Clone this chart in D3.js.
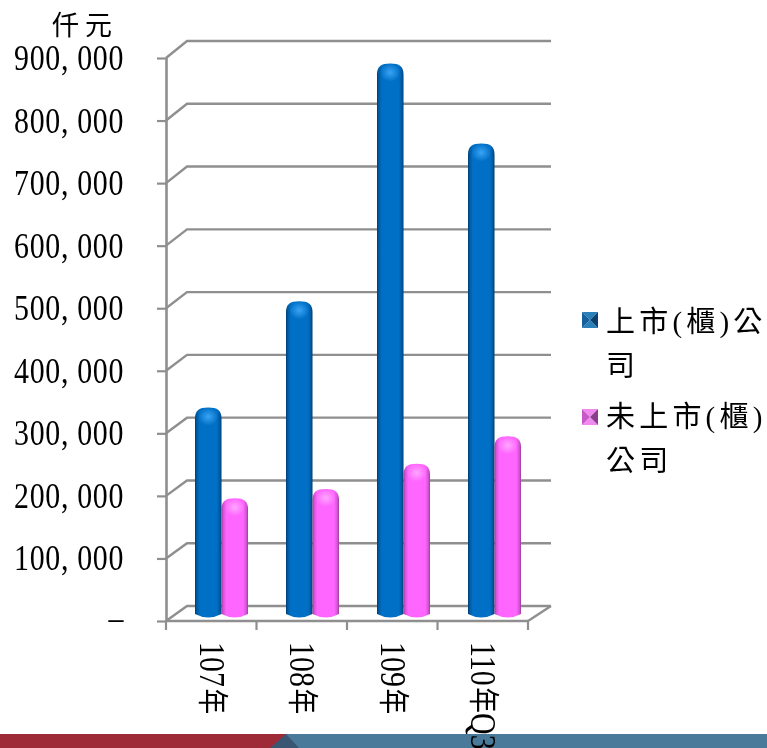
<!DOCTYPE html>
<html><head><meta charset="utf-8">
<script src="https://cdnjs.cloudflare.com/ajax/libs/d3/7.8.5/d3.min.js"></script>
<style>
html,body{margin:0;padding:0;background:#fff;overflow:hidden}
svg{filter:blur(0.35px)}
text{font-family:"Liberation Serif","Noto Sans CJK TC",serif;fill:#000}
</style></head><body>
<svg id="c" width="767" height="748"></svg>
<script>
const categories = ["107年","108年","109年","110年Q3"];
const listed = [330000,500000,880000,752000];
const unlisted = [185000,200000,240000,284000];
const yTicks = [0,100000,200000,300000,400000,500000,600000,700000,800000,900000];
const unitLabel = "仟元";
const legendLines = [["上市(櫃)公","司"],["未上市(櫃)","公司"]];
const colors = [
 {dark:"#003a70",mid:"#0070c6",light:"#3aa4f5",top:"#2a7fb8",flat:"#155f9c",side:"#0b3f6e"},
 {dark:"#9a3a9a",mid:"#ff66ff",light:"#ffa6ff",top:"#f08af0",flat:"#c858c8",side:"#8c3c8c"}
];
const fmt = v => v===0 ? "–" : d3.format(",")(v).replace(",",", ");

const svg = d3.select("#c");
const defs = svg.append("defs");
colors.forEach((c,i)=>{
  const g = defs.append("linearGradient").attr("id","bar"+i);
  [[0,c.dark],[.06,d3.interpolateRgb(c.dark,c.mid)(.55)],[.18,c.mid],[.82,c.mid],[.94,d3.interpolateRgb(c.dark,c.mid)(.55)],[1,c.dark]]
    .forEach(s=>g.append("stop").attr("offset",s[0]).attr("stop-color",s[1]));
  const r = defs.append("radialGradient").attr("id","glow"+i);
  r.append("stop").attr("offset",0).attr("stop-color",c.light);
  r.append("stop").attr("offset",1).attr("stop-color",c.light).attr("stop-opacity",0);
});

const x = d3.scaleBand().domain(categories).range([166,528]);
const xBars = d3.scaleBand().domain(categories).range([166,530]);
const y = d3.scaleLinear().domain([0,900000]).range([621,58]);
const yBack = d3.scaleLinear().domain([0,900000]).range([606,41]);
const backX = 187, backR = 551, frontR = 528, gray = "#8f8f8f";

const plot = svg.append("g");
yTicks.forEach(t=>{
  plot.append("path").attr("fill","none").attr("stroke",gray).attr("stroke-width",2.4)
    .attr("d",d3.line()([[x.range()[0],y(t)],[backX,yBack(t)],[backR,yBack(t)]]));
});
plot.append("path").attr("fill","none").attr("stroke",gray).attr("stroke-width",2.4)
  .attr("d",d3.line()([[frontR,y(0)],[backR,yBack(0)]]));

// y axis
const ya = d3.axisLeft(y).tickValues(yTicks).tickFormat(fmt).tickSize(9).tickPadding(33);
const yg = svg.append("g").attr("transform","translate(166,0)").call(ya);
yg.attr("font-family",null).attr("font-size",null);
yg.select(".domain").attr("stroke",gray).attr("stroke-width",2.6).attr("d",`M0.5,${y(900000)}V${y(0)}`);
yg.selectAll(".tick line").attr("stroke",gray).attr("stroke-width",2.2);
yg.selectAll(".tick text")
  .attr("x",0).attr("dy",null).attr("y",d=>d===0?8.5:11.5)
  .attr("font-size",36).attr("letter-spacing",.8)
  .attr("transform","translate(-42,0) scale(.83,1)");

// x axis
const xa = d3.axisBottom(x).tickValues([]).tickSize(0);
const xg = svg.append("g").attr("transform",`translate(0,${y(0)})`).call(xa);
xg.select(".domain").attr("stroke",gray).attr("stroke-width",2.6).attr("d",`M166,0H${frontR}`);
const edges = categories.map(c=>x(c)).concat([frontR]);
xg.selectAll("line.t").data(edges).join("line").attr("class","t")
  .attr("x1",d=>d).attr("x2",d=>d).attr("y1",0).attr("y2",9)
  .attr("stroke",gray).attr("stroke-width",2.2);

// bars
const depthX = 29, barW = 26.5, lift = 7;
function barPath(x0,top,w,base){
  const r=w/2, ry=11;
  return `M${x0},${top+ry}C${x0},${top+3} ${x0+4},${top} ${x0+r},${top}C${x0+w-4},${top} ${x0+w},${top+3} ${x0+w},${top+ry}L${x0+w},${base-2}Q${x0+r},${base+5} ${x0},${base-2}Z`;
}
const bars = svg.append("g");
[listed,unlisted].forEach((vals,si)=>{
  const g = bars.append("g").attr("class","series"+si);
  g.selectAll("path").data(vals).join("path")
    .attr("d",(v,i)=>barPath(xBars(categories[i])+depthX+si*barW,y(v)-lift,barW,y(0)-lift+2))
    .attr("fill",`url(#bar${si})`);
  g.selectAll("ellipse").data(vals).join("ellipse")
    .attr("cx",(v,i)=>xBars(categories[i])+depthX+si*barW+barW/2)
    .attr("cy",v=>y(v)-lift+9).attr("rx",10).attr("ry",9)
    .attr("fill",`url(#glow${si})`);
});

// category labels: narrow tall digits, with the CJK glyph in its own size
const labels = svg.append("g").selectAll("text").data(categories).join("text")
  .attr("transform",c=>`translate(${x(c)+48},642) rotate(90) scale(.83,1)`)
  .attr("y",12).attr("font-size",36);
labels.each(function(c){
  const t = d3.select(this);
  c.match(/年|[^年]+/g).forEach(part=>{
    if(part==="年") t.append("tspan").attr("font-size",31).attr("dx",2).attr("dy",-2).text(part);
    else t.append("tspan").attr("dy",t.selectAll("tspan").size()?2:0).text(part);
  });
});

// unit
svg.append("text").attr("x",52).attr("y",35).attr("font-size",27).attr("letter-spacing",6).text(unitLabel);

// legend
const legY = [312,409], textY=[[332,376],[427,471]];
legendLines.forEach((lines,i)=>{
  const m = svg.append("g").attr("transform",`translate(582,${legY[i]})`), c=colors[i], s=16;
  m.append("path").attr("d",`M0,0H${s}L${s/2},${s/2}Z`).attr("fill",c.top);
  m.append("path").attr("d",`M0,${s}H${s}L${s/2},${s/2}Z`).attr("fill",c.top);
  m.append("path").attr("d",`M0,0V${s}L${s/2},${s/2}Z`).attr("fill",c.flat);
  m.append("path").attr("d",`M${s},0V${s}L${s/2},${s/2}Z`).attr("fill",c.side);
  lines.forEach((t,j)=>svg.append("text").attr("x",606).attr("y",textY[i][j])
    .attr("font-size",29).attr("letter-spacing",4.2).text(t));
});

// footer band (drawn under the last label)
const footer = svg.insert("g","g");
footer.append("rect").attr("x",0).attr("y",734).attr("width",286).attr("height",14).attr("fill","#9e2a38");
footer.append("rect").attr("x",286).attr("y",734).attr("width",481).attr("height",14).attr("fill","#4a7a9a");
footer.append("path").attr("d","M270,748L286,734L299,748Z").attr("fill","#3a5673");
</script></body></html>
